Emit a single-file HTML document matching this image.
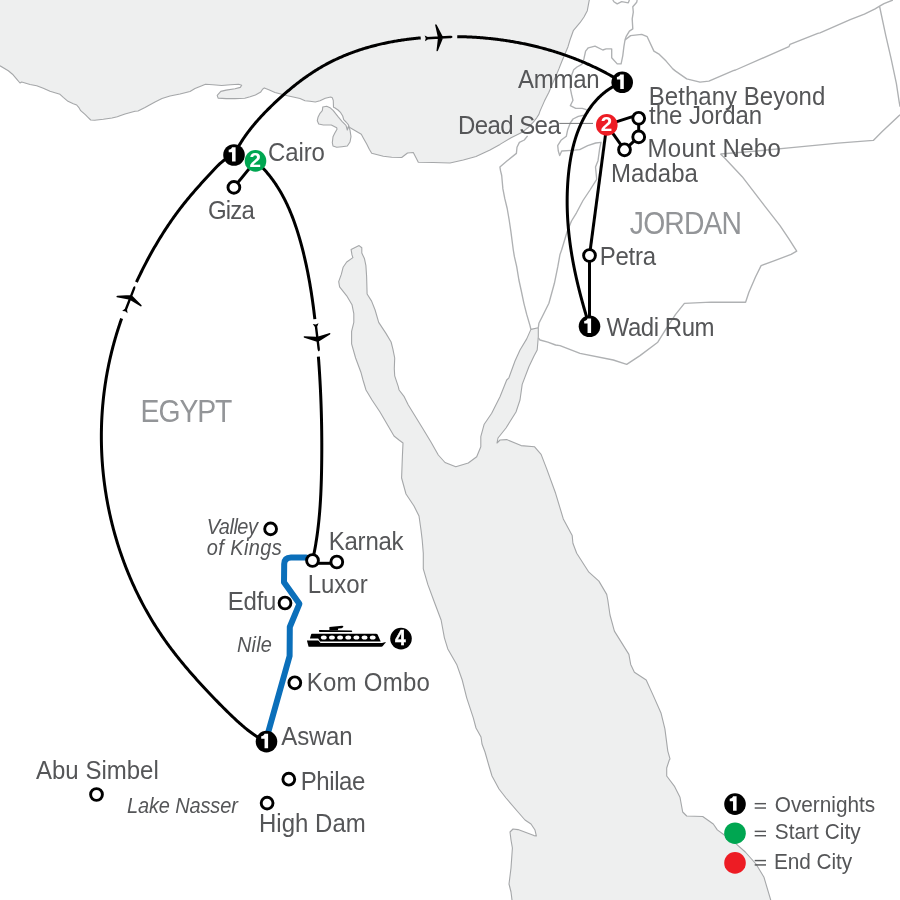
<!DOCTYPE html>
<html><head><meta charset="utf-8"><style>
html,body{margin:0;padding:0;background:#fff;}
body{width:900px;height:900px;overflow:hidden;}
svg{display:block;font-family:"Liberation Sans",sans-serif;will-change:transform;}
</style></head><body>
<svg width="900" height="900" viewBox="0 0 900 900">
<rect width="900" height="900" fill="#fff"/>
<polygon points="-5.0,-5.0 -5.0,65.8 0.0,65.8 8.3,70.8 12.5,74.2 16.7,79.2 20.0,83.0 21.7,82.0 30.0,84.5 36.7,85.8 43.3,88.3 50.0,91.3 58.3,93.7 60.0,94.3 63.3,97.3 68.0,101.3 73.3,103.7 76.7,105.0 78.7,107.3 80.7,110.7 85.3,114.7 88.0,117.3 90.7,120.0 94.7,120.3 103.3,119.3 112.0,118.0 117.3,116.7 120.0,115.7 125.0,114.0 135.0,111.2 138.0,111.0 145.0,107.5 155.0,102.0 162.0,98.5 170.0,96.0 180.0,94.0 190.0,91.5 195.0,88.5 200.0,86.5 205.5,84.3 212.8,84.8 221.7,85.5 230.6,84.8 238.6,84.3 241.7,85.2 240.3,87.4 235.0,88.8 226.1,90.1 220.8,91.4 217.2,95.4 218.1,98.1 226.1,98.6 235.0,98.6 244.8,98.3 250.1,96.8 255.4,95.0 260.8,91.9 262.6,89.2 264.3,87.9 268.8,89.7 275.0,92.5 287.5,95.8 300.0,98.5 305.0,100.8 310.0,101.3 315.3,102.0 320.0,100.7 325.3,98.3 330.7,97.0 332.3,97.7 333.3,100.7 333.5,107.3 334.7,107.7 338.0,110.0 340.7,112.7 342.7,116.0 343.7,119.7 346.0,122.0 348.3,124.7 349.3,127.3 355.3,130.7 361.3,134.3 363.3,138.0 366.7,144.0 369.3,149.3 371.7,153.3 383.3,156.3 391.7,157.2 401.7,157.5 407.5,153.0 413.3,152.5 418.3,162.2 433.3,162.5 450.0,163.0 463.3,160.0 476.0,156.5 490.0,150.0 500.0,144.4 511.1,137.8 522.2,132.2 527.8,127.8 533.3,122.2 536.7,117.8 538.9,114.4 540.0,111.1 544.4,101.1 548.9,92.2 552.2,84.4 555.6,76.7 558.9,68.9 562.2,60.5 565.3,53.3 568.0,46.7 570.0,40.0 573.3,30.7 580.0,22.7 584.0,17.0 587.3,10.7 589.3,0.0 589.3,-5.0" fill="#eeefef"/>
<polyline points="0.0,65.8 8.3,70.8 12.5,74.2 16.7,79.2 20.0,83.0 21.7,82.0 30.0,84.5 36.7,85.8 43.3,88.3 50.0,91.3 58.3,93.7 60.0,94.3 63.3,97.3 68.0,101.3 73.3,103.7 76.7,105.0 78.7,107.3 80.7,110.7 85.3,114.7 88.0,117.3 90.7,120.0 94.7,120.3 103.3,119.3 112.0,118.0 117.3,116.7 120.0,115.7 125.0,114.0 135.0,111.2 138.0,111.0 145.0,107.5 155.0,102.0 162.0,98.5 170.0,96.0 180.0,94.0 190.0,91.5 195.0,88.5 200.0,86.5 205.5,84.3 212.8,84.8 221.7,85.5 230.6,84.8 238.6,84.3 241.7,85.2 240.3,87.4 235.0,88.8 226.1,90.1 220.8,91.4 217.2,95.4 218.1,98.1 226.1,98.6 235.0,98.6 244.8,98.3 250.1,96.8 255.4,95.0 260.8,91.9 262.6,89.2 264.3,87.9 268.8,89.7 275.0,92.5 287.5,95.8 300.0,98.5 305.0,100.8 310.0,101.3 315.3,102.0 320.0,100.7 325.3,98.3 330.7,97.0 332.3,97.7 333.3,100.7 333.5,107.3 334.7,107.7 338.0,110.0 340.7,112.7 342.7,116.0 343.7,119.7 346.0,122.0 348.3,124.7 349.3,127.3 355.3,130.7 361.3,134.3 363.3,138.0 366.7,144.0 369.3,149.3 371.7,153.3 383.3,156.3 391.7,157.2 401.7,157.5 407.5,153.0 413.3,152.5 418.3,162.2 433.3,162.5 450.0,163.0 463.3,160.0 476.0,156.5 490.0,150.0 500.0,144.4 511.1,137.8 522.2,132.2 527.8,127.8 533.3,122.2 536.7,117.8 538.9,114.4 540.0,111.1 544.4,101.1 548.9,92.2 552.2,84.4 555.6,76.7 558.9,68.9 562.2,60.5 565.3,53.3 568.0,46.7 570.0,40.0 573.3,30.7 580.0,22.7 584.0,17.0 587.3,10.7 589.3,0.0" fill="none" stroke="#a5a7a9" stroke-width="1.1" stroke-linejoin="round"/>
<polygon points="322.7,107.0 326.7,106.3 330.0,107.7 333.3,110.7 338.0,116.7 342.0,121.3 346.0,125.3 347.3,130.0 348.3,126.3 350.0,130.0 351.0,136.7 350.0,142.0 347.3,146.0 342.0,146.7 336.7,147.3 333.0,146.0 332.3,142.7 333.0,136.7 334.7,133.3 337.0,129.3 336.7,127.7 331.3,125.0 323.3,125.0 318.7,124.0 317.3,120.7 318.0,117.3 320.0,113.3 322.3,110.7 322.7,108.0" fill="#eeefef" stroke="#a5a7a9" stroke-width="1.1" stroke-linejoin="round"/>
<polygon points="359.1,245.6 351.1,249.6 352.0,254.9 352.9,257.6 346.7,262.0 343.1,267.3 341.3,274.4 338.7,281.6 339.6,286.9 346.7,295.8 352.0,304.7 353.8,313.6 353.8,322.4 351.6,331.3 351.6,343.8 355.6,358.0 360.9,372.2 363.0,380.0 366.0,390.0 372.0,400.0 380.0,412.0 387.0,424.0 394.0,436.0 399.0,440.0 403.0,443.0 402.4,456.0 401.6,478.0 406.0,494.0 414.0,506.0 419.0,516.0 421.0,530.0 422.2,540.0 423.3,553.3 423.3,568.9 427.8,584.4 434.4,602.2 441.1,620.0 444.4,637.8 447.8,648.9 456.7,664.4 462.2,680.0 466.7,697.8 473.3,717.8 476.0,728.0 481.0,737.0 482.0,744.0 485.0,752.0 489.0,766.0 492.0,776.0 499.0,789.0 506.0,798.0 518.0,812.0 525.0,820.0 531.0,824.0 535.0,830.0 536.4,836.0 534.0,835.6 518.0,829.6 513.0,829.0 510.0,832.0 511.0,840.0 512.4,848.0 511.0,868.0 509.0,884.0 511.0,892.0 512.0,900.0 513.0,905.0 772.0,905.0 770.7,900.0 764.0,877.3 756.0,864.0 745.3,852.0 734.7,842.7 724.0,834.7 717.3,829.9 713.3,824.0 702.7,816.5 686.7,816.0 682.7,812.0 680.0,797.3 674.7,786.7 666.7,776.0 666.7,768.0 669.3,760.0 670.0,758.9 667.8,751.1 664.9,728.9 661.1,713.3 653.3,695.6 646.2,680.0 634.4,672.2 630.7,664.4 628.9,654.4 614.4,631.1 610.0,615.0 607.8,600.0 606.7,594.4 598.9,581.1 588.9,572.2 576.7,553.3 572.9,543.3 572.2,535.6 563.3,518.9 555.6,493.3 546.7,468.9 541.1,454.4 534.4,446.7 521.1,445.6 506.7,439.6 500.0,440.0 497.0,443.0 498.0,438.0 506.0,428.0 516.0,412.0 520.0,400.0 522.2,384.4 528.9,366.7 534.0,356.0 537.2,350.0 538.3,336.7 538.3,327.8 530.9,329.4 526.7,338.9 520.0,350.0 515.0,361.0 508.9,377.8 506.7,380.0 500.0,396.7 491.7,413.3 484.2,424.2 480.8,436.7 480.8,446.7 476.7,456.7 468.3,463.0 455.8,466.7 445.0,462.5 438.3,455.0 430.8,441.7 421.7,426.7 408.3,405.0 404.2,396.7 399.1,390.0 398.2,386.4 394.7,375.8 394.3,368.7 394.7,358.0 392.9,349.1 391.1,342.0 385.8,333.1 378.7,322.4 375.1,310.0 371.6,301.1 367.1,294.0 366.6,276.2 365.9,265.6 364.4,258.4 361.8,253.1 361.8,247.8" fill="#eeefef" stroke="#a5a7a9" stroke-width="1.1" stroke-linejoin="round"/>
<polyline points="625.0,40.0 623.9,46.7 622.8,55.6 621.1,63.9 617.2,63.9 611.7,57.8 611.7,48.9 606.1,48.9 602.8,50.0 595.0,46.1 588.3,47.8 585.6,51.1 583.9,58.9 581.7,64.4 577.0,67.0 573.7,69.7 571.7,75.0 571.0,81.7 570.3,88.3 571.7,95.0 573.0,100.3 570.3,105.7 575.7,108.3 582.3,108.3 586.3,109.7 587.7,112.3 585.0,115.0 578.3,116.3 573.0,119.0 570.3,123.0 567.7,129.7 566.3,136.3 561.0,140.3 557.7,145.7 558.3,151.0 559.7,155.5 561.7,151.0 571.7,150.3 579.7,149.7 587.7,145.7 595.7,143.0 601.0,142.3 599.7,148.3 598.0,160.7 595.5,167.0 596.7,179.3 590.0,190.0 583.0,200.5 576.5,212.8 571.5,221.0 567.1,231.7 561.6,250.0 560.0,254.4 557.8,266.7 554.4,283.3 548.9,303.3 542.2,316.7 538.9,323.3 538.3,327.8" fill="none" stroke="#afb1b3" stroke-width="1.35" stroke-linejoin="round"/>
<polyline points="527.6,135.8 524.3,140.0 519.4,142.4 517.0,147.3 516.4,153.4 507.2,160.8 499.9,166.9 500.5,170.6 501.7,175.5 502.9,188.9 504.8,198.7 507.2,208.5 509.1,219.5 510.9,231.7 513.3,250.0 514.4,256.7 516.7,266.7 518.9,280.0 521.1,290.0 523.9,303.3 526.7,314.4 530.0,325.6 530.9,329.4" fill="none" stroke="#afb1b3" stroke-width="1.35" stroke-linejoin="round"/>
<polyline points="538.3,337.8 540.0,340.0 547.8,342.2 555.6,345.0 560.0,345.6 580.0,353.3 613.3,360.0 626.7,364.4 640.0,355.6 657.8,342.2 666.7,327.8 675.6,314.4 684.4,303.3 711.1,302.2 745.6,302.2 748.9,292.2 755.6,276.7 761.1,265.6 773.3,261.1 791.1,254.4 796.7,251.1 788.9,238.9 780.0,225.6 764.4,205.6 742.2,176.7 724.4,157.8 720.5,154.0" fill="none" stroke="#afb1b3" stroke-width="1.35" stroke-linejoin="round"/>
<polyline points="720.5,154.0 755.6,151.1 788.9,147.8 820.0,144.9 837.8,143.1 873.3,140.4 882.2,131.6 900.0,114.7" fill="none" stroke="#afb1b3" stroke-width="1.35" stroke-linejoin="round"/>
<polyline points="625.0,40.0 630.6,35.6 641.7,34.4 647.2,36.7 653.9,51.1 659.4,54.4 666.1,61.1 672.8,68.9 675.6,71.1 686.7,78.9 700.0,82.2 708.9,81.1 733.3,70.7 735.6,70.0 788.9,46.7 790.0,44.4 817.8,33.3 820.0,32.9 850.2,19.6 864.4,14.2 875.1,8.9 879.6,6.2 884.0,3.6 892.9,0.0" fill="none" stroke="#afb1b3" stroke-width="1.35" stroke-linejoin="round"/>
<polyline points="879.6,6.5 885.8,35.6 891.1,58.7 896.4,83.6 899.1,101.3 900.0,106.7" fill="none" stroke="#afb1b3" stroke-width="1.35" stroke-linejoin="round"/>
<polyline points="612.8,0.0 613.9,1.7 617.2,3.9 621.7,1.7 628.3,2.8 629.4,0.0" fill="none" stroke="#afb1b3" stroke-width="1.35" stroke-linejoin="round"/>
<polyline points="637.2,0.0 636.7,2.2 632.8,6.7 633.3,12.2 632.2,18.9 632.8,28.9 629.4,31.1 626.1,36.7 625.0,40.0" fill="none" stroke="#afb1b3" stroke-width="1.35" stroke-linejoin="round"/>
<text transform="translate(140.57,421.70) scale(0.9,1.0)" font-size="31.5" fill="#939598" letter-spacing="-1.174">EGYPT</text>
<text transform="translate(629.86,234.10) scale(0.9,1.0)" font-size="31.5" fill="#939598" letter-spacing="-0.980">JORDAN</text>
<line x1="559.3" y1="123.4" x2="593" y2="123.4" stroke="#77787a" stroke-width="1"/>
<path d="M306,557.6 L291,557.4 Q284.3,557.6 284.2,564 L284,582.3 L299.4,603.8 L289.8,627 L289.6,656 L268,733" fill="none" stroke="#0b6fba" stroke-width="6" stroke-linecap="round" stroke-linejoin="round"/>
<path d="M266.30,741.80 L264.76,741.06 L263.24,740.28 L261.74,739.48 L260.26,738.64 L258.80,737.77 L257.35,736.88 L255.92,735.96 L254.50,735.02 L253.10,734.05 L251.71,733.06 L250.34,732.05 L248.98,731.01 L247.63,729.96 L246.29,728.90 L244.97,727.81 L243.65,726.71 L242.35,725.60 L241.05,724.47 L239.77,723.33 L238.49,722.19 L237.22,721.03 L235.96,719.86 L234.70,718.69 L233.45,717.52 L232.20,716.34 L230.96,715.15 L229.73,713.96 L228.50,712.77 L227.28,711.58 L226.06,710.38 L224.84,709.17 L223.63,707.97 L222.42,706.76 L221.22,705.54 L220.01,704.32 L218.82,703.10 L217.62,701.88 L216.43,700.65 L215.24,699.42 L214.06,698.19 L212.87,696.96 L211.69,695.72 L210.51,694.48 L209.33,693.24 L208.16,691.99 L206.98,690.74 L205.81,689.49 L204.64,688.24 L203.48,686.98 L202.31,685.72 L201.15,684.46 L199.99,683.20 L198.84,681.93 L197.69,680.66 L196.54,679.38 L195.40,678.10 L194.25,676.82 L193.12,675.54 L191.98,674.25 L190.86,672.96 L189.73,671.66 L188.61,670.37 L187.49,669.06 L186.38,667.76 L185.28,666.45 L184.17,665.13 L183.08,663.81 L181.98,662.49 L180.90,661.17 L179.82,659.84 L178.74,658.50 L177.67,657.16 L176.60,655.82 L175.55,654.47 L174.49,653.12 L173.45,651.77 L172.41,650.41 L171.37,649.04 L170.34,647.67 L169.32,646.30 L168.31,644.92 L167.30,643.53 L166.30,642.14 L165.31,640.75 L164.32,639.35 L163.34,637.94 L162.37,636.53 L161.41,635.12 L160.45,633.70 L159.50,632.28 L158.56,630.85 L157.62,629.41 L156.70,627.97 L155.78,626.53 L154.86,625.08 L153.96,623.63 L153.06,622.17 L152.17,620.71 L151.29,619.24 L150.41,617.77 L149.55,616.30 L148.69,614.82 L147.83,613.33 L146.99,611.85 L146.15,610.35 L145.32,608.86 L144.50,607.35 L143.68,605.85 L142.88,604.34 L142.08,602.83 L141.28,601.31 L140.50,599.79 L139.72,598.26 L138.95,596.73 L138.19,595.20 L137.43,593.66 L136.69,592.12 L135.95,590.57 L135.21,589.03 L134.49,587.47 L133.77,585.92 L133.06,584.36 L132.36,582.80 L131.67,581.23 L130.98,579.66 L130.30,578.09 L129.63,576.51 L128.97,574.93 L128.31,573.35 L127.67,571.76 L127.03,570.17 L126.39,568.58 L125.77,566.98 L125.15,565.38 L124.54,563.78 L123.94,562.18 L123.35,560.57 L122.76,558.96 L122.18,557.34 L121.61,555.73 L121.05,554.11 L120.49,552.49 L119.94,550.86 L119.40,549.23 L118.87,547.60 L118.35,545.97 L117.83,544.34 L117.32,542.70 L116.82,541.06 L116.33,539.41 L115.85,537.77 L115.37,536.12 L114.90,534.47 L114.44,532.82 L113.98,531.17 L113.54,529.51 L113.10,527.85 L112.67,526.19 L112.25,524.53 L111.83,522.86 L111.43,521.20 L111.03,519.53 L110.64,517.86 L110.26,516.19 L109.88,514.51 L109.52,512.84 L109.16,511.16 L108.81,509.48 L108.46,507.80 L108.13,506.12 L107.80,504.43 L107.48,502.75 L107.17,501.06 L106.87,499.37 L106.58,497.68 L106.29,495.99 L106.01,494.30 L105.74,492.61 L105.48,490.91 L105.22,489.21 L104.98,487.52 L104.74,485.82 L104.51,484.12 L104.29,482.42 L104.07,480.72 L103.87,479.02 L103.67,477.31 L103.48,475.61 L103.30,473.90 L103.12,472.20 L102.96,470.49 L102.80,468.79 L102.65,467.08 L102.51,465.37 L102.38,463.66 L102.25,461.95 L102.13,460.24 L102.03,458.53 L101.93,456.82 L101.83,455.11 L101.75,453.40 L101.67,451.69 L101.61,449.97 L101.55,448.26 L101.49,446.55 L101.45,444.83 L101.42,443.12 L101.39,441.41 L101.37,439.70 L101.36,437.98 L101.36,436.27 L101.36,434.56 L101.38,432.84 L101.40,431.13 L101.43,429.42 L101.47,427.70 L101.51,425.99 L101.57,424.28 L101.63,422.57 L101.70,420.86 L101.78,419.15 L101.87,417.44 L101.97,415.73 L102.07,414.02 L102.18,412.31 L102.30,410.60 L102.43,408.89 L102.57,407.18 L102.71,405.48 L102.87,403.77 L103.03,402.07 L103.20,400.36 L103.38,398.66 L103.56,396.95 L103.76,395.25 L103.96,393.55 L104.17,391.85 L104.39,390.15 L104.62,388.46 L104.86,386.76 L105.10,385.06 L105.35,383.37 L105.62,381.68 L105.88,379.99 L106.16,378.30 L106.45,376.61 L106.74,374.92 L107.04,373.23 L107.36,371.55 L107.67,369.86 L108.00,368.18 L108.34,366.50 L108.68,364.82 L109.03,363.15 L109.40,361.47 L109.76,359.80 L110.14,358.12 L110.53,356.45 L110.92,354.79 L111.32,353.12 L111.73,351.45 L112.15,349.79 L112.58,348.13 L113.02,346.47 L113.46,344.81 L113.91,343.16 L114.37,341.51 L114.84,339.86 L115.31,338.21 L115.79,336.56 L116.28,334.92 L116.78,333.27 L117.29,331.63 L117.80,330.00 L118.32,328.36 L118.85,326.73 L119.39,325.10 L119.93,323.47 L120.48,321.84 L121.04,320.22 L121.60,318.60" fill="none" stroke="#000" stroke-width="3" stroke-linecap="butt" stroke-linejoin="round"/>
<path d="M136.48,282.04 L137.21,280.48 L137.94,278.93 L138.67,277.38 L139.41,275.84 L140.16,274.30 L140.91,272.76 L141.67,271.22 L142.44,269.69 L143.21,268.16 L143.98,266.63 L144.76,265.11 L145.55,263.59 L146.34,262.08 L147.14,260.57 L147.94,259.06 L148.75,257.55 L149.57,256.05 L150.39,254.55 L151.22,253.06 L152.05,251.57 L152.89,250.08 L153.73,248.60 L154.58,247.12 L155.44,245.64 L156.30,244.17 L157.17,242.70 L158.05,241.24 L158.93,239.78 L159.82,238.32 L160.71,236.87 L161.61,235.42 L162.52,233.98 L163.44,232.54 L164.36,231.10 L165.29,229.67 L166.22,228.24 L167.16,226.82 L168.11,225.40 L169.07,223.98 L170.03,222.57 L171.00,221.16 L171.98,219.76 L172.97,218.36 L173.96,216.97 L174.96,215.58 L175.96,214.19 L176.98,212.81 L178.00,211.44 L179.03,210.07 L180.06,208.70 L181.11,207.34 L182.16,205.98 L183.22,204.63 L184.29,203.28 L185.37,201.94 L186.45,200.60 L187.54,199.27 L188.64,197.94 L189.75,196.61 L190.86,195.29 L191.98,193.98 L193.11,192.66 L194.24,191.36 L195.37,190.05 L196.51,188.76 L197.66,187.46 L198.81,186.17 L199.96,184.88 L201.11,183.60 L202.27,182.31 L203.43,181.04 L204.59,179.76 L205.75,178.49 L206.91,177.22 L208.08,175.96 L209.24,174.69 L210.40,173.43 L211.56,172.18 L212.72,170.92 L213.88,169.67 L215.05,168.44 L216.23,167.22 L217.42,166.02 L218.63,164.85 L219.85,163.71 L221.10,162.60 L222.38,161.54 L223.69,160.51 L225.03,159.54 L226.41,158.62 L227.83,157.76 L229.30,156.96 L230.81,156.24 L232.38,155.58 L234.00,155.00" fill="none" stroke="#000" stroke-width="3" stroke-linecap="butt" stroke-linejoin="round"/>
<path d="M234.00,155.00 L234.47,154.02 L234.95,153.05 L235.45,152.08 L235.95,151.12 L236.45,150.17 L236.97,149.21 L237.49,148.27 L238.03,147.32 L238.56,146.39 L239.11,145.45 L239.67,144.52 L240.23,143.60 L240.80,142.68 L241.37,141.76 L241.96,140.85 L242.55,139.94 L243.15,139.04 L243.75,138.14 L244.36,137.24 L244.98,136.35 L245.61,135.46 L246.24,134.58 L246.88,133.70 L247.52,132.82 L248.17,131.95 L248.83,131.08 L249.49,130.22 L250.16,129.36 L250.83,128.50 L251.51,127.65 L252.20,126.80 L252.89,125.95 L253.59,125.11 L254.29,124.27 L255.00,123.43 L255.71,122.60 L256.42,121.77 L257.15,120.94 L257.87,120.11 L258.61,119.29 L259.34,118.48 L260.08,117.66 L260.83,116.85 L261.58,116.04 L262.33,115.23 L263.09,114.43 L263.85,113.63 L264.62,112.83 L265.39,112.03 L266.17,111.24 L266.94,110.45 L267.72,109.66 L268.51,108.88 L269.30,108.10 L270.09,107.32 L270.88,106.54 L271.68,105.76 L272.48,104.99 L273.29,104.22 L274.09,103.45 L274.90,102.68 L275.72,101.92 L276.53,101.15 L277.35,100.39 L278.17,99.63 L278.99,98.88 L279.82,98.13 L280.65,97.37 L281.48,96.63 L282.31,95.88 L283.15,95.14 L283.99,94.40 L284.83,93.66 L285.67,92.93 L286.52,92.20 L287.37,91.47 L288.22,90.74 L289.07,90.02 L289.93,89.30 L290.79,88.59 L291.65,87.88 L292.52,87.17 L293.39,86.47 L294.26,85.77 L295.13,85.07 L296.01,84.38 L296.89,83.69 L297.77,83.01 L298.65,82.33 L299.54,81.65 L300.43,80.98 L301.32,80.31 L302.22,79.65 L303.11,78.99 L304.01,78.33 L304.92,77.68 L305.82,77.04 L306.73,76.40 L307.64,75.76 L308.55,75.13 L309.47,74.51 L310.39,73.89 L311.31,73.27 L312.23,72.66 L313.16,72.06 L314.09,71.46 L315.02,70.87 L315.95,70.28 L316.89,69.70 L317.83,69.12 L318.77,68.55 L319.72,67.98 L320.67,67.42 L321.62,66.87 L322.57,66.32 L323.53,65.78 L324.48,65.25 L325.44,64.72 L326.41,64.19 L327.37,63.67 L328.34,63.16 L329.31,62.66 L330.29,62.16 L331.26,61.66 L332.24,61.17 L333.22,60.69 L334.20,60.21 L335.19,59.74 L336.17,59.27 L337.16,58.81 L338.16,58.35 L339.15,57.90 L340.15,57.46 L341.15,57.02 L342.15,56.58 L343.15,56.16 L344.15,55.73 L345.16,55.31 L346.17,54.90 L347.18,54.49 L348.20,54.09 L349.21,53.70 L350.23,53.31 L351.25,52.92 L352.27,52.54 L353.29,52.16 L354.32,51.79 L355.35,51.43 L356.37,51.07 L357.41,50.71 L358.44,50.36 L359.47,50.02 L360.51,49.68 L361.55,49.34 L362.59,49.01 L363.63,48.69 L364.67,48.37 L365.72,48.05 L366.76,47.74 L367.81,47.44 L368.86,47.14 L369.91,46.84 L370.97,46.55 L372.02,46.26 L373.08,45.98 L374.14,45.70 L375.19,45.43 L376.25,45.17 L377.32,44.90 L378.38,44.64 L379.44,44.39 L380.51,44.14 L381.58,43.90 L382.65,43.66 L383.72,43.42 L384.79,43.19 L385.86,42.96 L386.94,42.74 L388.01,42.52 L389.09,42.31 L390.16,42.10 L391.24,41.90 L392.32,41.70 L393.40,41.50 L394.49,41.31 L395.57,41.12 L396.65,40.94 L397.74,40.76 L398.82,40.58 L399.91,40.41 L401.00,40.24 L402.09,40.08 L403.18,39.92 L404.27,39.77 L405.36,39.62 L406.45,39.47 L407.55,39.33 L408.64,39.19 L409.74,39.05 L410.83,38.92 L411.93,38.79 L413.02,38.67 L414.12,38.55 L415.22,38.44 L416.32,38.32 L417.42,38.22 L418.52,38.11 L419.62,38.01 L420.72,37.91" fill="none" stroke="#000" stroke-width="3" stroke-linecap="butt" stroke-linejoin="round"/>
<path d="M457.25,36.63 L458.35,36.65 L459.46,36.67 L460.57,36.69 L461.68,36.72 L462.79,36.75 L463.89,36.78 L465.00,36.82 L466.11,36.86 L467.22,36.90 L468.33,36.95 L469.43,37.00 L470.54,37.06 L471.65,37.11 L472.75,37.17 L473.86,37.24 L474.97,37.30 L476.07,37.37 L477.18,37.45 L478.28,37.52 L479.39,37.60 L480.49,37.69 L481.60,37.77 L482.70,37.86 L483.80,37.96 L484.91,38.06 L486.01,38.16 L487.11,38.26 L488.21,38.37 L489.32,38.48 L490.42,38.59 L491.52,38.71 L492.62,38.83 L493.72,38.96 L494.82,39.08 L495.92,39.21 L497.01,39.35 L498.11,39.49 L499.21,39.63 L500.31,39.77 L501.40,39.92 L502.50,40.07 L503.59,40.23 L504.69,40.39 L505.78,40.55 L506.87,40.72 L507.97,40.89 L509.06,41.06 L510.15,41.23 L511.24,41.41 L512.33,41.60 L513.42,41.78 L514.51,41.97 L515.59,42.17 L516.68,42.37 L517.77,42.57 L518.85,42.77 L519.94,42.98 L521.02,43.19 L522.10,43.40 L523.19,43.62 L524.27,43.84 L525.35,44.07 L526.43,44.30 L527.51,44.53 L528.58,44.77 L529.66,45.01 L530.74,45.25 L531.81,45.50 L532.89,45.75 L533.96,46.00 L535.03,46.26 L536.10,46.52 L537.17,46.79 L538.24,47.05 L539.31,47.33 L540.38,47.60 L541.44,47.88 L542.51,48.16 L543.57,48.45 L544.64,48.74 L545.70,49.03 L546.76,49.33 L547.82,49.63 L548.88,49.94 L549.93,50.25 L550.99,50.56 L552.05,50.87 L553.10,51.19 L554.15,51.51 L555.20,51.84 L556.25,52.17 L557.30,52.51 L558.35,52.84 L559.40,53.18 L560.44,53.53 L561.49,53.88 L562.53,54.23 L563.57,54.59 L564.61,54.95 L565.65,55.31 L566.69,55.68 L567.72,56.05 L568.76,56.42 L569.79,56.80 L570.82,57.18 L571.85,57.57 L572.88,57.96 L573.91,58.35 L574.93,58.75 L575.96,59.15 L576.98,59.55 L578.00,59.96 L579.02,60.37 L580.04,60.79 L581.06,61.21 L582.07,61.63 L583.09,62.06 L584.10,62.49 L585.11,62.93 L586.12,63.36 L587.12,63.81 L588.13,64.25 L589.13,64.70 L590.14,65.16 L591.14,65.61 L592.14,66.07 L593.13,66.54 L594.13,67.01 L595.12,67.48 L596.12,67.96 L597.11,68.44 L598.09,68.92 L599.08,69.41 L600.07,69.90 L601.05,70.40 L602.03,70.90 L603.01,71.40 L603.99,71.91 L604.96,72.42 L605.94,72.94 L606.91,73.46 L607.88,73.98 L608.85,74.51 L609.82,75.04 L610.78,75.57 L611.74,76.11 L612.70,76.66 L613.66,77.20 L614.62,77.75 L615.57,78.31 L616.53,78.86 L617.48,79.43 L618.43,79.99 L619.37,80.56 L620.32,81.14 L621.26,81.72 L622.20,82.30" fill="none" stroke="#000" stroke-width="3" stroke-linecap="butt" stroke-linejoin="round"/>
<path d="M255.50,160.90 L256.29,161.61 L257.08,162.32 L257.86,163.04 L258.63,163.77 L259.39,164.50 L260.14,165.24 L260.88,165.98 L261.62,166.73 L262.35,167.48 L263.07,168.24 L263.78,169.00 L264.48,169.77 L265.18,170.55 L265.87,171.33 L266.55,172.11 L267.23,172.90 L267.89,173.70 L268.55,174.50 L269.20,175.30 L269.85,176.11 L270.48,176.93 L271.11,177.75 L271.74,178.57 L272.35,179.40 L272.96,180.23 L273.56,181.07 L274.16,181.91 L274.75,182.76 L275.33,183.61 L275.90,184.46 L276.47,185.32 L277.03,186.19 L277.58,187.05 L278.13,187.93 L278.67,188.80 L279.21,189.68 L279.74,190.56 L280.26,191.45 L280.78,192.34 L281.29,193.23 L281.79,194.13 L282.29,195.03 L282.79,195.94 L283.27,196.85 L283.75,197.76 L284.23,198.67 L284.70,199.59 L285.16,200.51 L285.62,201.44 L286.07,202.37 L286.52,203.30 L286.96,204.23 L287.40,205.17 L287.83,206.11 L288.26,207.05 L288.68,207.99 L289.10,208.94 L289.51,209.89 L289.92,210.85 L290.32,211.80 L290.71,212.76 L291.11,213.72 L291.49,214.68 L291.88,215.65 L292.25,216.62 L292.63,217.59 L293.00,218.56 L293.36,219.53 L293.72,220.51 L294.08,221.48 L294.43,222.46 L294.78,223.45 L295.12,224.43 L295.46,225.41 L295.80,226.40 L296.13,227.39 L296.45,228.38 L296.78,229.37 L297.10,230.36 L297.42,231.36 L297.73,232.35 L298.04,233.35 L298.34,234.35 L298.65,235.35 L298.95,236.35 L299.24,237.35 L299.54,238.35 L299.83,239.35 L300.11,240.36 L300.40,241.36 L300.68,242.37 L300.95,243.38 L301.23,244.38 L301.50,245.39 L301.77,246.40 L302.03,247.41 L302.30,248.42 L302.56,249.43 L302.82,250.44 L303.07,251.45 L303.32,252.46 L303.57,253.47 L303.82,254.49 L304.06,255.50 L304.31,256.52 L304.54,257.53 L304.78,258.55 L305.01,259.56 L305.25,260.58 L305.47,261.60 L305.70,262.61 L305.92,263.63 L306.15,264.65 L306.36,265.67 L306.58,266.69 L306.79,267.71 L307.01,268.73 L307.21,269.75 L307.42,270.77 L307.63,271.80 L307.83,272.82 L308.03,273.84 L308.23,274.86 L308.42,275.89 L308.61,276.91 L308.80,277.94 L308.99,278.96 L309.18,279.99 L309.36,281.01 L309.55,282.04 L309.73,283.07 L309.90,284.10 L310.08,285.12 L310.25,286.15 L310.43,287.18 L310.60,288.21 L310.76,289.24 L310.93,290.27 L311.09,291.30 L311.25,292.33 L311.42,293.36 L311.57,294.39 L311.73,295.42 L311.88,296.45 L312.04,297.48 L312.19,298.51 L312.34,299.54 L312.48,300.58 L312.63,301.61 L312.77,302.64 L312.92,303.67 L313.06,304.71 L313.20,305.74 L313.33,306.77 L313.47,307.81 L313.60,308.84 L313.73,309.88 L313.87,310.91 L313.99,311.95 L314.12,312.98 L314.25,314.02 L314.37,315.05 L314.50,316.09 L314.62,317.12 L314.74,318.16 L314.86,319.19" fill="none" stroke="#000" stroke-width="3" stroke-linecap="butt" stroke-linejoin="round"/>
<path d="M318.38,356.52 L318.46,357.55 L318.53,358.59 L318.61,359.63 L318.69,360.66 L318.76,361.70 L318.84,362.74 L318.91,363.77 L318.98,364.81 L319.06,365.85 L319.13,366.88 L319.20,367.92 L319.26,368.96 L319.33,369.99 L319.40,371.03 L319.47,372.07 L319.53,373.11 L319.59,374.14 L319.66,375.18 L319.72,376.22 L319.78,377.25 L319.84,378.29 L319.90,379.33 L319.96,380.36 L320.02,381.40 L320.07,382.44 L320.13,383.48 L320.18,384.51 L320.24,385.55 L320.29,386.59 L320.34,387.63 L320.39,388.66 L320.44,389.70 L320.49,390.74 L320.54,391.78 L320.59,392.81 L320.63,393.85 L320.68,394.89 L320.72,395.93 L320.77,396.96 L320.81,398.00 L320.85,399.04 L320.89,400.08 L320.93,401.11 L320.97,402.15 L321.01,403.19 L321.05,404.23 L321.08,405.27 L321.12,406.31 L321.15,407.34 L321.19,408.38 L321.22,409.42 L321.25,410.46 L321.28,411.50 L321.31,412.54 L321.34,413.58 L321.37,414.61 L321.40,415.65 L321.42,416.69 L321.45,417.73 L321.47,418.77 L321.50,419.81 L321.52,420.85 L321.54,421.89 L321.56,422.93 L321.58,423.97 L321.60,425.01 L321.62,426.05 L321.64,427.09 L321.65,428.12 L321.67,429.16 L321.68,430.20 L321.70,431.24 L321.71,432.29 L321.72,433.33 L321.73,434.37 L321.74,435.41 L321.75,436.45 L321.76,437.49 L321.77,438.53 L321.77,439.57 L321.78,440.61 L321.78,441.65 L321.79,442.69 L321.79,443.73 L321.79,444.77 L321.79,445.82 L321.79,446.86 L321.79,447.90 L321.79,448.94 L321.79,449.98 L321.79,451.02 L321.78,452.07 L321.78,453.11 L321.77,454.15 L321.76,455.19 L321.76,456.24 L321.75,457.28 L321.74,458.32 L321.73,459.37 L321.72,460.41 L321.70,461.45 L321.69,462.49 L321.68,463.54 L321.66,464.58 L321.65,465.63 L321.63,466.67 L321.61,467.71 L321.60,468.76 L321.58,469.80 L321.56,470.85 L321.54,471.89 L321.51,472.94 L321.49,473.98 L321.47,475.02 L321.44,476.07 L321.42,477.11 L321.39,478.16 L321.36,479.20 L321.33,480.25 L321.30,481.29 L321.26,482.34 L321.23,483.38 L321.19,484.42 L321.16,485.47 L321.12,486.51 L321.08,487.56 L321.04,488.60 L321.00,489.64 L320.95,490.69 L320.91,491.73 L320.86,492.77 L320.81,493.82 L320.76,494.86 L320.70,495.90 L320.65,496.94 L320.59,497.99 L320.54,499.03 L320.48,500.07 L320.41,501.11 L320.35,502.15 L320.29,503.19 L320.22,504.23 L320.15,505.27 L320.08,506.31 L320.00,507.35 L319.93,508.39 L319.85,509.43 L319.77,510.46 L319.69,511.50 L319.60,512.54 L319.51,513.57 L319.43,514.61 L319.33,515.65 L319.24,516.68 L319.14,517.72 L319.05,518.75 L318.94,519.78 L318.84,520.82 L318.73,521.85 L318.63,522.88 L318.51,523.91 L318.40,524.94 L318.28,525.97 L318.16,527.00 L318.04,528.03 L317.92,529.05 L317.79,530.08 L317.66,531.11 L317.53,532.13 L317.39,533.16 L317.25,534.18 L317.11,535.21 L316.97,536.23 L316.82,537.25 L316.67,538.27 L316.51,539.29 L316.36,540.31 L316.20,541.33 L316.03,542.35 L315.87,543.36 L315.70,544.38 L315.52,545.40 L315.35,546.41 L315.17,547.42 L314.98,548.43 L314.80,549.45 L314.61,550.46 L314.41,551.47 L314.22,552.47 L314.01,553.48 L313.81,554.49 L313.60,555.49 L313.39,556.50 L313.17,557.50 L312.95,558.50 L312.73,559.50 L312.50,560.50" fill="none" stroke="#000" stroke-width="3" stroke-linecap="butt" stroke-linejoin="round"/>
<path d="M622.20,82.30 L621.54,82.56 L620.88,82.83 L620.23,83.10 L619.58,83.38 L618.94,83.67 L618.31,83.96 L617.68,84.26 L617.05,84.56 L616.43,84.87 L615.82,85.18 L615.21,85.50 L614.60,85.82 L614.00,86.15 L613.41,86.48 L612.82,86.82 L612.23,87.16 L611.65,87.51 L611.08,87.86 L610.51,88.21 L609.95,88.58 L609.39,88.94 L608.83,89.31 L608.28,89.69 L607.74,90.07 L607.20,90.45 L606.66,90.84 L606.13,91.24 L605.60,91.64 L605.08,92.04 L604.56,92.45 L604.05,92.86 L603.55,93.27 L603.04,93.69 L602.54,94.12 L602.05,94.54 L601.56,94.98 L601.08,95.41 L600.60,95.85 L600.12,96.30 L599.65,96.75 L599.18,97.20 L598.72,97.66 L598.26,98.12 L597.81,98.58 L597.36,99.05 L596.91,99.52 L596.47,99.99 L596.04,100.47 L595.61,100.95 L595.18,101.44 L594.75,101.93 L594.33,102.42 L593.92,102.92 L593.51,103.42 L593.10,103.92 L592.70,104.42 L592.30,104.93 L591.90,105.45 L591.51,105.96 L591.12,106.48 L590.74,107.00 L590.36,107.53 L589.99,108.05 L589.62,108.59 L589.25,109.12 L588.88,109.66 L588.52,110.20 L588.17,110.74 L587.82,111.28 L587.47,111.83 L587.12,112.38 L586.78,112.93 L586.44,113.49 L586.11,114.05 L585.78,114.61 L585.45,115.17 L585.13,115.74 L584.81,116.31 L584.50,116.88 L584.18,117.45 L583.87,118.02 L583.57,118.60 L583.27,119.18 L582.97,119.76 L582.68,120.35 L582.38,120.93 L582.10,121.52 L581.81,122.11 L581.53,122.71 L581.25,123.30 L580.98,123.90 L580.71,124.50 L580.44,125.10 L580.17,125.70 L579.91,126.31 L579.65,126.91 L579.40,127.52 L579.15,128.13 L578.90,128.75 L578.65,129.36 L578.41,129.98 L578.17,130.60 L577.94,131.22 L577.71,131.84 L577.48,132.46 L577.25,133.09 L577.03,133.71 L576.81,134.34 L576.59,134.97 L576.37,135.60 L576.16,136.24 L575.95,136.87 L575.75,137.51 L575.55,138.14 L575.35,138.78 L575.15,139.42 L574.96,140.07 L574.77,140.71 L574.58,141.35 L574.39,142.00 L574.21,142.65 L574.03,143.30 L573.85,143.95 L573.68,144.60 L573.51,145.25 L573.34,145.90 L573.17,146.56 L573.01,147.22 L572.85,147.87 L572.69,148.53 L572.54,149.19 L572.39,149.85 L572.24,150.51 L572.09,151.17 L571.94,151.84 L571.80,152.50 L571.66,153.17 L571.52,153.83 L571.39,154.50 L571.26,155.17 L571.13,155.83 L571.00,156.50 L570.87,157.17 L570.75,157.84 L570.63,158.52 L570.51,159.19 L570.40,159.86 L570.29,160.53 L570.18,161.21 L570.07,161.88 L569.96,162.56 L569.86,163.23 L569.76,163.91 L569.66,164.59 L569.56,165.26 L569.46,165.94 L569.37,166.62 L569.28,167.30 L569.19,167.98 L569.11,168.65 L569.02,169.33 L568.94,170.01 L568.86,170.69 L568.78,171.37 L568.71,172.05 L568.63,172.73 L568.56,173.41 L568.49,174.10 L568.42,174.78 L568.36,175.46 L568.29,176.14 L568.23,176.82 L568.17,177.50 L568.11,178.18 L568.05,178.86 L568.00,179.54 L567.95,180.22 L567.90,180.90 L567.85,181.58 L567.80,182.26 L567.75,182.94 L567.71,183.62 L567.67,184.30 L567.63,184.98 L567.59,185.66 L567.55,186.34 L567.51,187.02 L567.48,187.70 L567.45,188.37 L567.42,189.05 L567.39,189.73 L567.36,190.41 L567.34,191.08 L567.31,191.76 L567.29,192.44 L567.27,193.11 L567.25,193.79 L567.24,194.46 L567.22,195.14 L567.21,195.81 L567.19,196.49 L567.18,197.16 L567.17,197.84 L567.17,198.51 L567.16,199.19 L567.16,199.86 L567.15,200.53 L567.15,201.21 L567.15,201.88 L567.16,202.55 L567.16,203.22 L567.16,203.90 L567.17,204.57 L567.18,205.24 L567.19,205.91 L567.20,206.58 L567.21,207.25 L567.23,207.92 L567.24,208.59 L567.26,209.26 L567.28,209.93 L567.30,210.60 L567.32,211.27 L567.35,211.94 L567.37,212.61 L567.40,213.28 L567.43,213.95 L567.45,214.62 L567.49,215.29 L567.52,215.95 L567.55,216.62 L567.59,217.29 L567.62,217.96 L567.66,218.62 L567.70,219.29 L567.74,219.96 L567.78,220.62 L567.83,221.29 L567.87,221.95 L567.92,222.62 L567.97,223.29 L568.02,223.95 L568.07,224.62 L568.12,225.28 L568.17,225.95 L568.23,226.61 L568.29,227.27 L568.34,227.94 L568.40,228.60 L568.46,229.27 L568.52,229.93 L568.59,230.59 L568.65,231.25 L568.72,231.92 L568.78,232.58 L568.85,233.24 L568.92,233.90 L568.99,234.57 L569.07,235.23 L569.14,235.89 L569.21,236.55 L569.29,237.21 L569.37,237.87 L569.45,238.53 L569.53,239.19 L569.61,239.85 L569.69,240.51 L569.77,241.17 L569.86,241.83 L569.95,242.49 L570.03,243.15 L570.12,243.81 L570.21,244.47 L570.30,245.13 L570.40,245.79 L570.49,246.45 L570.58,247.11 L570.68,247.76 L570.78,248.42 L570.88,249.08 L570.98,249.74 L571.08,250.39 L571.18,251.05 L571.28,251.71 L571.39,252.36 L571.49,253.02 L571.60,253.68 L571.71,254.33 L571.81,254.99 L571.92,255.65 L572.04,256.30 L572.15,256.96 L572.26,257.61 L572.38,258.27 L572.49,258.92 L572.61,259.58 L572.73,260.23 L572.84,260.89 L572.96,261.54 L573.09,262.20 L573.21,262.85 L573.33,263.50 L573.45,264.16 L573.58,264.81 L573.71,265.46 L573.83,266.12 L573.96,266.77 L574.09,267.42 L574.22,268.08 L574.35,268.73 L574.49,269.38 L574.62,270.03 L574.75,270.69 L574.89,271.34 L575.03,271.99 L575.16,272.64 L575.30,273.29 L575.44,273.95 L575.58,274.60 L575.72,275.25 L575.87,275.90 L576.01,276.55 L576.15,277.20 L576.30,277.85 L576.45,278.50 L576.59,279.15 L576.74,279.80 L576.89,280.45 L577.04,281.10 L577.19,281.75 L577.34,282.40 L577.50,283.05 L577.65,283.70 L577.80,284.35 L577.96,285.00 L578.12,285.65 L578.27,286.30 L578.43,286.94 L578.59,287.59 L578.75,288.24 L578.91,288.89 L579.07,289.54 L579.23,290.19 L579.40,290.83 L579.56,291.48 L579.73,292.13 L579.89,292.78 L580.06,293.42 L580.22,294.07 L580.39,294.72 L580.56,295.36 L580.73,296.01 L580.90,296.66 L581.07,297.31 L581.24,297.95 L581.42,298.60 L581.59,299.24 L581.77,299.89 L581.94,300.54 L582.12,301.18 L582.29,301.83 L582.47,302.47 L582.65,303.12 L582.83,303.77 L583.01,304.41 L583.19,305.06 L583.37,305.70 L583.55,306.35 L583.73,306.99 L583.91,307.64 L584.10,308.28 L584.28,308.93 L584.47,309.57 L584.65,310.22 L584.84,310.86 L585.03,311.50 L585.21,312.15 L585.40,312.79 L585.59,313.44 L585.78,314.08 L585.97,314.72 L586.16,315.37 L586.36,316.01 L586.55,316.66 L586.74,317.30 L586.93,317.94 L587.13,318.59 L587.32,319.23 L587.52,319.87 L587.71,320.52 L587.91,321.16 L588.11,321.80 L588.30,322.44 L588.50,323.09 L588.70,323.73 L588.90,324.37 L589.10,325.01 L589.30,325.66 L589.50,326.30" fill="none" stroke="#000" stroke-width="3" stroke-linecap="butt" stroke-linejoin="round"/>
<line x1="606.8" y1="124.9" x2="589.5" y2="255.5" stroke="#000" stroke-width="3"/>
<line x1="589.5" y1="255.5" x2="589.5" y2="326.3" stroke="#000" stroke-width="3"/>
<line x1="606.8" y1="124.9" x2="638.7" y2="114.6" stroke="#000" stroke-width="3"/>
<line x1="638.7" y1="118.3" x2="638.7" y2="136.9" stroke="#000" stroke-width="3"/>
<line x1="638.7" y1="136.9" x2="624.5" y2="149.8" stroke="#000" stroke-width="3"/>
<line x1="624.5" y1="149.8" x2="606.8" y2="124.9" stroke="#000" stroke-width="3"/>
<line x1="255.5" y1="160.9" x2="233.9" y2="187.4" stroke="#000" stroke-width="3"/>
<line x1="312.5" y1="563.3" x2="336.8" y2="563.3" stroke="#000" stroke-width="3"/>
<g fill="#000">
<path transform="translate(441,37.5) rotate(-3)" d="M-14.5,-1.2 L8.5,-1.2 C10.7,-1.2 11.5,-0.6 11.5,0 C11.5,0.6 10.7,1.2 8.5,1.2 L-14.5,1.2 Z M-3.2,-1 L-5.2,-12.9 C-5,-13.7 -4,-13.6 -3.7,-12.9 L1.8,-1 Z M1.8,1 L-3.7,12.9 C-4,13.6 -5,13.7 -5.2,12.9 L-3.2,1 Z M-12.8,1 L-16.2,2.9 L-15.3,0 L-16.2,-2.9 L-12.8,-1 Z"/>
<path transform="translate(130.7,297.0) rotate(-68.8)" d="M-14.5,-1.2 L8.5,-1.2 C10.7,-1.2 11.5,-0.6 11.5,0 C11.5,0.6 10.7,1.2 8.5,1.2 L-14.5,1.2 Z M-3.2,-1 L-5.2,-12.9 C-5,-13.7 -4,-13.6 -3.7,-12.9 L1.8,-1 Z M1.8,1 L-3.7,12.9 C-4,13.6 -5,13.7 -5.2,12.9 L-3.2,1 Z M-12.8,1 L-16.2,2.9 L-15.3,0 L-16.2,-2.9 L-12.8,-1 Z"/>
<path transform="translate(317.6,339.8) rotate(83.1)" d="M-14.5,-1.2 L8.5,-1.2 C10.7,-1.2 11.5,-0.6 11.5,0 C11.5,0.6 10.7,1.2 8.5,1.2 L-14.5,1.2 Z M-3.2,-1 L-5.2,-12.9 C-5,-13.7 -4,-13.6 -3.7,-12.9 L1.8,-1 Z M1.8,1 L-3.7,12.9 C-4,13.6 -5,13.7 -5.2,12.9 L-3.2,1 Z M-12.8,1 L-16.2,2.9 L-15.3,0 L-16.2,-2.9 L-12.8,-1 Z"/>
</g>
<g fill="#000">
<path d="M329.4,626.9 L342.2,625.8 C343.4,625.8 343.6,626.6 343.1,627.2 L341.6,628.3 L338.3,628.6 L337.8,630.2 L329.4,630.2 Z"/>
<path d="M319.6,630.1 L351.5,630.5 Q352.2,630.6 352.2,631.2 Q352.2,631.9 351.5,631.9 L319.6,631.9 C318.6,631.9 318.6,630.1 319.6,630.1 Z"/>
<path d="M311.8,633.8 L376,633.8 Q377.2,633.8 377.6,634.6 L380.7,641.6 L320.1,641.6 L318.2,638.4 L309.9,638.4 L311.1,634.4 Q311.3,633.8 311.8,633.8 Z"/>
<path d="M306.9,640.6 L318.3,640.6 L320.5,643 L382,643 L385.8,641.9 Q385.6,642.8 384.6,643.8 L382.6,646.3 Q382.2,646.7 381.5,646.7 L308.6,646.7 Z"/>
</g>
<g fill="#fff"><ellipse cx="323.80" cy="637.5" rx="2.9" ry="2.0"/><ellipse cx="331.95" cy="637.5" rx="2.9" ry="2.0"/><ellipse cx="340.10" cy="637.5" rx="2.9" ry="2.0"/><ellipse cx="348.25" cy="637.5" rx="2.9" ry="2.0"/><ellipse cx="356.40" cy="637.5" rx="2.9" ry="2.0"/><ellipse cx="364.55" cy="637.5" rx="2.9" ry="2.0"/><ellipse cx="372.70" cy="637.5" rx="2.9" ry="2.0"/></g>
<circle cx="233.9" cy="187.4" r="5.9" fill="#fff" stroke="#000" stroke-width="2.9"/>
<circle cx="638.7" cy="118.3" r="5.9" fill="#fff" stroke="#000" stroke-width="2.9"/>
<circle cx="638.7" cy="136.9" r="5.9" fill="#fff" stroke="#000" stroke-width="2.9"/>
<circle cx="624.5" cy="149.8" r="5.9" fill="#fff" stroke="#000" stroke-width="2.9"/>
<circle cx="589.5" cy="255.5" r="5.9" fill="#fff" stroke="#000" stroke-width="2.9"/>
<circle cx="270.6" cy="528.9" r="5.9" fill="#fff" stroke="#000" stroke-width="2.9"/>
<circle cx="312.5" cy="560.5" r="5.9" fill="#fff" stroke="#000" stroke-width="2.9"/>
<circle cx="336.8" cy="562" r="5.9" fill="#fff" stroke="#000" stroke-width="2.9"/>
<circle cx="285" cy="603" r="5.9" fill="#fff" stroke="#000" stroke-width="2.9"/>
<circle cx="294.8" cy="682.8" r="5.9" fill="#fff" stroke="#000" stroke-width="2.9"/>
<circle cx="288.8" cy="779.2" r="5.9" fill="#fff" stroke="#000" stroke-width="2.9"/>
<circle cx="267.1" cy="803.1" r="5.9" fill="#fff" stroke="#000" stroke-width="2.9"/>
<circle cx="96.5" cy="794.5" r="5.9" fill="#fff" stroke="#000" stroke-width="2.9"/>
<circle cx="234" cy="155" r="10.8" fill="#000"/><path transform="translate(233.9,155)" d="M-1.85,-7.8 L1.7,-7.8 L1.7,6.6 L-1.85,6.6 L-1.85,-2.8 L-5.2,-2.8 L-5.2,-5.3 C-3.6,-5.5 -2.3,-6.5 -1.85,-7.8 Z" fill="#fff"/>
<circle cx="255.5" cy="160.9" r="10.8" fill="#00a651"/><text x="255.2" y="166.70" font-size="20.6" font-weight="bold" fill="#fff" text-anchor="middle">2</text>
<circle cx="622.2" cy="82.3" r="10.8" fill="#000"/><path transform="translate(622.1,82.3)" d="M-1.85,-7.8 L1.7,-7.8 L1.7,6.6 L-1.85,6.6 L-1.85,-2.8 L-5.2,-2.8 L-5.2,-5.3 C-3.6,-5.5 -2.3,-6.5 -1.85,-7.8 Z" fill="#fff"/>
<circle cx="606.8" cy="124.9" r="10.8" fill="#ed1c24"/><text x="606.5" y="130.70" font-size="20.6" font-weight="bold" fill="#fff" text-anchor="middle">2</text>
<circle cx="589.5" cy="326.3" r="10.8" fill="#000"/><path transform="translate(589.4,326.3)" d="M-1.85,-7.8 L1.7,-7.8 L1.7,6.6 L-1.85,6.6 L-1.85,-2.8 L-5.2,-2.8 L-5.2,-5.3 C-3.6,-5.5 -2.3,-6.5 -1.85,-7.8 Z" fill="#fff"/>
<circle cx="266.5" cy="741.6" r="10.8" fill="#000"/><path transform="translate(266.4,741.6)" d="M-1.85,-7.8 L1.7,-7.8 L1.7,6.6 L-1.85,6.6 L-1.85,-2.8 L-5.2,-2.8 L-5.2,-5.3 C-3.6,-5.5 -2.3,-6.5 -1.85,-7.8 Z" fill="#fff"/>
<circle cx="401" cy="638.6" r="10.8" fill="#000"/><text transform="translate(400.40,645.20) scale(0.93,1.07)" font-size="20.6" font-weight="bold" fill="#fff" stroke="#fff" stroke-width="0.45" text-anchor="middle">4</text>
<text transform="translate(517.95,87.80) scale(1.0,1.04)" font-size="24" fill="#555658" letter-spacing="-0.221">Amman</text>
<text transform="translate(267.88,161.00) scale(1.0,1.04)" font-size="24" fill="#555658" letter-spacing="-0.058">Cairo</text>
<text transform="translate(207.99,218.70) scale(1.0,1.04)" font-size="24" fill="#555658" letter-spacing="-0.851">Giza</text>
<text transform="translate(458.03,133.50) scale(1.0,1.04)" font-size="24" fill="#555658" letter-spacing="-0.569">Dead Sea</text>
<text transform="translate(648.83,104.50) scale(1.0,1.04)" font-size="24" fill="#555658" letter-spacing="0.037">Bethany Beyond</text>
<text transform="translate(649.04,124.40) scale(1.0,1.04)" font-size="24" fill="#555658" letter-spacing="-0.022">the Jordan</text>
<text transform="translate(647.53,157.40) scale(1.0,1.04)" font-size="24" fill="#555658" letter-spacing="0.292">Mount Nebo</text>
<text transform="translate(611.03,181.50) scale(1.0,1.04)" font-size="24" fill="#555658" letter-spacing="0.047">Madaba</text>
<text transform="translate(599.73,264.70) scale(1.0,1.04)" font-size="24" fill="#555658" letter-spacing="-0.227">Petra</text>
<text transform="translate(606.59,336.30) scale(1.0,1.04)" font-size="24" fill="#555658" letter-spacing="-0.436">Wadi Rum</text>
<text transform="translate(328.73,549.70) scale(1.0,1.04)" font-size="24" fill="#555658" letter-spacing="-0.223">Karnak</text>
<text transform="translate(307.63,592.50) scale(1.0,1.04)" font-size="24" fill="#555658" letter-spacing="0.005">Luxor</text>
<text transform="translate(227.73,609.60) scale(1.0,1.04)" font-size="24" fill="#555658" letter-spacing="-0.204">Edfu</text>
<text transform="translate(306.73,690.80) scale(1.0,1.04)" font-size="24" fill="#555658" letter-spacing="0.272">Kom Ombo</text>
<text transform="translate(281.35,744.60) scale(1.0,1.04)" font-size="24" fill="#555658" letter-spacing="-0.210">Aswan</text>
<text transform="translate(300.73,789.70) scale(1.0,1.04)" font-size="24" fill="#555658" letter-spacing="-0.417">Philae</text>
<text transform="translate(258.93,831.80) scale(1.0,1.04)" font-size="24" fill="#555658" letter-spacing="0.035">High Dam</text>
<text transform="translate(35.95,779.00) scale(1.0,1.04)" font-size="24" fill="#555658" letter-spacing="0.024">Abu Simbel</text>
<text transform="translate(206.77,534.20) scale(1.0,1.08)" font-size="20" fill="#555658" font-style="italic" letter-spacing="-0.502">Valley</text>
<text transform="translate(206.85,554.50) scale(1.0,1.08)" font-size="20" fill="#555658" font-style="italic" letter-spacing="0.400">of Kings</text>
<text transform="translate(236.88,651.60) scale(1.0,1.08)" font-size="20" fill="#555658" font-style="italic" letter-spacing="0.201">Nile</text>
<text transform="translate(126.98,812.60) scale(1.0,1.08)" font-size="20" fill="#555658" font-style="italic" letter-spacing="-0.134">Lake Nasser</text>
<circle cx="735" cy="804.1" r="10.8" fill="#000"/><path transform="translate(734.9,804.1)" d="M-1.85,-7.8 L1.7,-7.8 L1.7,6.6 L-1.85,6.6 L-1.85,-2.8 L-5.2,-2.8 L-5.2,-5.3 C-3.6,-5.5 -2.3,-6.5 -1.85,-7.8 Z" fill="#fff"/>
<circle cx="735" cy="833.2" r="10.8" fill="#00a651"/>
<circle cx="735" cy="862.9" r="10.8" fill="#ed1c24"/>
<rect x="754.7" y="802.95" width="11.3" height="1.45" fill="#555658"/><rect x="754.7" y="807.30" width="11.3" height="1.45" fill="#555658"/>
<text transform="translate(774.71,811.70) scale(1.0,1.05)" font-size="20.8" fill="#555658" letter-spacing="-0.003">Overnights</text>
<rect x="754.7" y="830.65" width="11.3" height="1.45" fill="#555658"/><rect x="754.7" y="835.00" width="11.3" height="1.45" fill="#555658"/>
<text transform="translate(774.76,839.40) scale(1.0,1.05)" font-size="20.8" fill="#555658" letter-spacing="0.041">Start City</text>
<rect x="754.7" y="859.85" width="11.3" height="1.45" fill="#555658"/><rect x="754.7" y="864.20" width="11.3" height="1.45" fill="#555658"/>
<text transform="translate(773.99,868.60) scale(1.0,1.05)" font-size="20.8" fill="#555658" letter-spacing="-0.066">End City</text>
</svg>
</body></html>
